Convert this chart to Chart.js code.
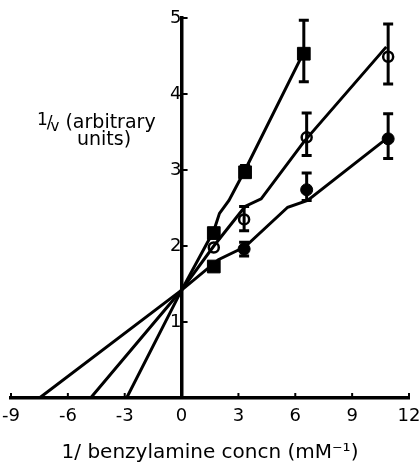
<!DOCTYPE html>
<html><head><meta charset="utf-8">
<script src="https://cdn.jsdelivr.net/npm/chart.js@4/dist/chart.umd.min.js"></script>
<style>html,body{margin:0;padding:0;background:#fff}#wrap{width:419px;height:466px;position:relative}</style>
</head><body><div id="wrap"><canvas id="c"></canvas></div>
<script>
// Axis ticks
const xTickValues = [-9, -6, -3, 0, 3, 6, 9, 12];
const yTickValues = [1, 2, 3, 4, 5];
const xAxisTitle = '1/ benzylamine concn (mM\u207B\u00B9)';
const yAxisTitle1 = ' (arbitrary';
const yAxisTitle2 = 'units)';

// Filled squares series
const sqX = [1.7, 3.35, 6.45];
const sqY = [2.17, 2.97, 4.53];
const sqLo = [null, 2.91, 4.16];
const sqHi = [null, 3.06, 4.97];
// Open circles series
const ocX = [1.7, 3.3, 6.6, 10.9];
const ocY = [1.98, 2.35, 3.43, 4.49];
const ocLo = [null, 2.2, 3.19, 4.13];
const ocHi = [null, 2.52, 3.75, 4.92];
// Filled circles series (first point printed as a square)
const fcX = [1.7, 3.3, 6.6, 10.9];
const fcY = [1.73, 1.96, 2.74, 3.41];
const fcLo = [null, 1.87, 2.6, 3.15];
const fcHi = [null, 2.05, 2.96, 3.74];

// Hand-drawn fit lines (vertices)
const sqLineX = [-2.9, 0, 1.7, 2.0, 2.5, 3.35, 6.45];
const sqLineY = [0, 1.42, 2.2, 2.43, 2.6, 3.0, 4.55];
const ocLineX = [-4.8, 0, 1.7, 3.35, 4.2, 6.45, 10.8];
const ocLineY = [0, 1.42, 2.0, 2.52, 2.62, 3.37, 4.62];
const fcLineX = [-7.5, 0, 1.94, 3.35, 5.6, 6.65, 10.85];
const fcLineY = [0, 1.42, 1.82, 1.99, 2.51, 2.6, 3.42];

const pts = (xs, ys) => xs.map((x, i) => ({x, y: ys[i]}));
const FONT = 'DejaVu Sans';

const errorBars = {
  id: 'errorBars',
  afterDatasetsDraw(chart) {
    const {ctx, scales: {x, y}} = chart;
    const sets = [[sqX, sqLo, sqHi], [ocX, ocLo, ocHi], [fcX, fcLo, fcHi]];
    ctx.save();
    ctx.strokeStyle = '#000';
    ctx.lineWidth = 3;
    sets.forEach(([xs, lo, hi]) => {
      xs.forEach((xv, i) => {
        if (lo[i] == null) return;
        const px = x.getPixelForValue(xv);
        const y1 = y.getPixelForValue(lo[i]);
        const y2 = y.getPixelForValue(hi[i]);
        ctx.beginPath();
        ctx.moveTo(px, y1); ctx.lineTo(px, y2);
        ctx.moveTo(px - 5, y1); ctx.lineTo(px + 5, y1);
        ctx.moveTo(px - 5, y2); ctx.lineTo(px + 5, y2);
        ctx.stroke();
      });
    });
    ctx.restore();
  }
};

const decor = {
  id: 'decor',
  afterDraw(chart) {
    const {ctx, scales: {x, y}} = chart;
    ctx.save();
    ctx.strokeStyle = '#000';
    ctx.lineWidth = 2;
    const x0 = x.getPixelForValue(0);
    const y0 = y.getPixelForValue(0);
    yTickValues.forEach(v => {
      const py = y.getPixelForValue(v);
      ctx.beginPath(); ctx.moveTo(x0, py); ctx.lineTo(x0 + 6, py); ctx.stroke();
    });
    xTickValues.forEach(v => {
      if (v === 0) return;
      const px = x.getPixelForValue(v);
      ctx.beginPath(); ctx.moveTo(px, y0); ctx.lineTo(px, y0 - 5); ctx.stroke();
    });
    // y-axis title
    ctx.fillStyle = '#000';
    ctx.textBaseline = 'alphabetic';
    ctx.font = '17px "' + FONT + '"';
    let cx = 37;
    const by = 128;
    ctx.fillText('1', cx, by - 3);
    cx += ctx.measureText('1').width - 1;
    ctx.fillText('/', cx, by);
    cx += ctx.measureText('/').width - 2;
    ctx.font = '15px "' + FONT + '"';
    ctx.fillText('v', cx, by + 3);
    cx += ctx.measureText('v').width;
    ctx.font = '19px "' + FONT + '"';
    ctx.fillText(yAxisTitle1, cx, by);
    ctx.fillText(yAxisTitle2, 77, by + 17);
    ctx.restore();
  }
};

new Chart(document.getElementById('c'), {
  type: 'scatter',
  data: {
    datasets: [
      {data: pts(sqLineX, sqLineY), showLine: true, pointRadius: 0, borderColor: '#000', borderWidth: 3, fill: false},
      {data: pts(ocLineX, ocLineY), showLine: true, pointRadius: 0, borderColor: '#000', borderWidth: 3, fill: false},
      {data: pts(fcLineX, fcLineY), showLine: true, pointRadius: 0, borderColor: '#000', borderWidth: 3, fill: false},
      {data: pts(sqX, sqY), pointStyle: 'rect', pointRadius: 9, backgroundColor: '#000', borderColor: '#000', borderWidth: 1},
      {data: pts(ocX, ocY), pointStyle: 'circle', pointRadius: 5, backgroundColor: '#fff', borderColor: '#000', borderWidth: 2.5},
      {data: pts(fcX, fcY), pointStyle: ['rect', 'circle', 'circle', 'circle'], pointRadius: [9, 6, 6, 6], backgroundColor: '#000', borderColor: '#000', borderWidth: 1}
    ]
  },
  options: {
    responsive: true,
    maintainAspectRatio: false,
    animation: false,
    events: [],
    layout: {padding: {left: 11, right: 7, top: 18, bottom: 0}},
    plugins: {legend: {display: false}, tooltip: {enabled: false}},
    scales: {
      x: {
        type: 'linear', position: 'bottom', min: -9, max: 12,
        afterBuildTicks: s => { s.ticks = xTickValues.map(v => ({value: v})); },
        afterFit: s => { s.paddingLeft = 0; s.paddingRight = 0; s.height = 68; },
        grid: {display: false, drawTicks: false},
        border: {display: true, color: '#000', width: 3.5},
        ticks: {color: '#000', padding: 8, font: {family: FONT, size: 18}, maxRotation: 0, autoSkip: false},
        title: {display: true, text: xAxisTitle, color: '#000', font: {family: FONT, size: 20}, padding: {top: 0, bottom: 1}}
      },
      y: {
        type: 'linear', position: {x: 0}, min: 0, max: 5,
        afterBuildTicks: s => { s.ticks = yTickValues.map(v => ({value: v})); },
        afterFit: s => { s.width = 0; s.paddingTop = 0; s.paddingBottom = 0; },
        grid: {display: false, drawTicks: false},
        border: {display: true, color: '#000', width: 3.5},
        ticks: {color: '#000', padding: 5, font: {family: FONT, size: 18}}
      }
    }
  },
  plugins: [errorBars, decor]
});
</script></body></html>
